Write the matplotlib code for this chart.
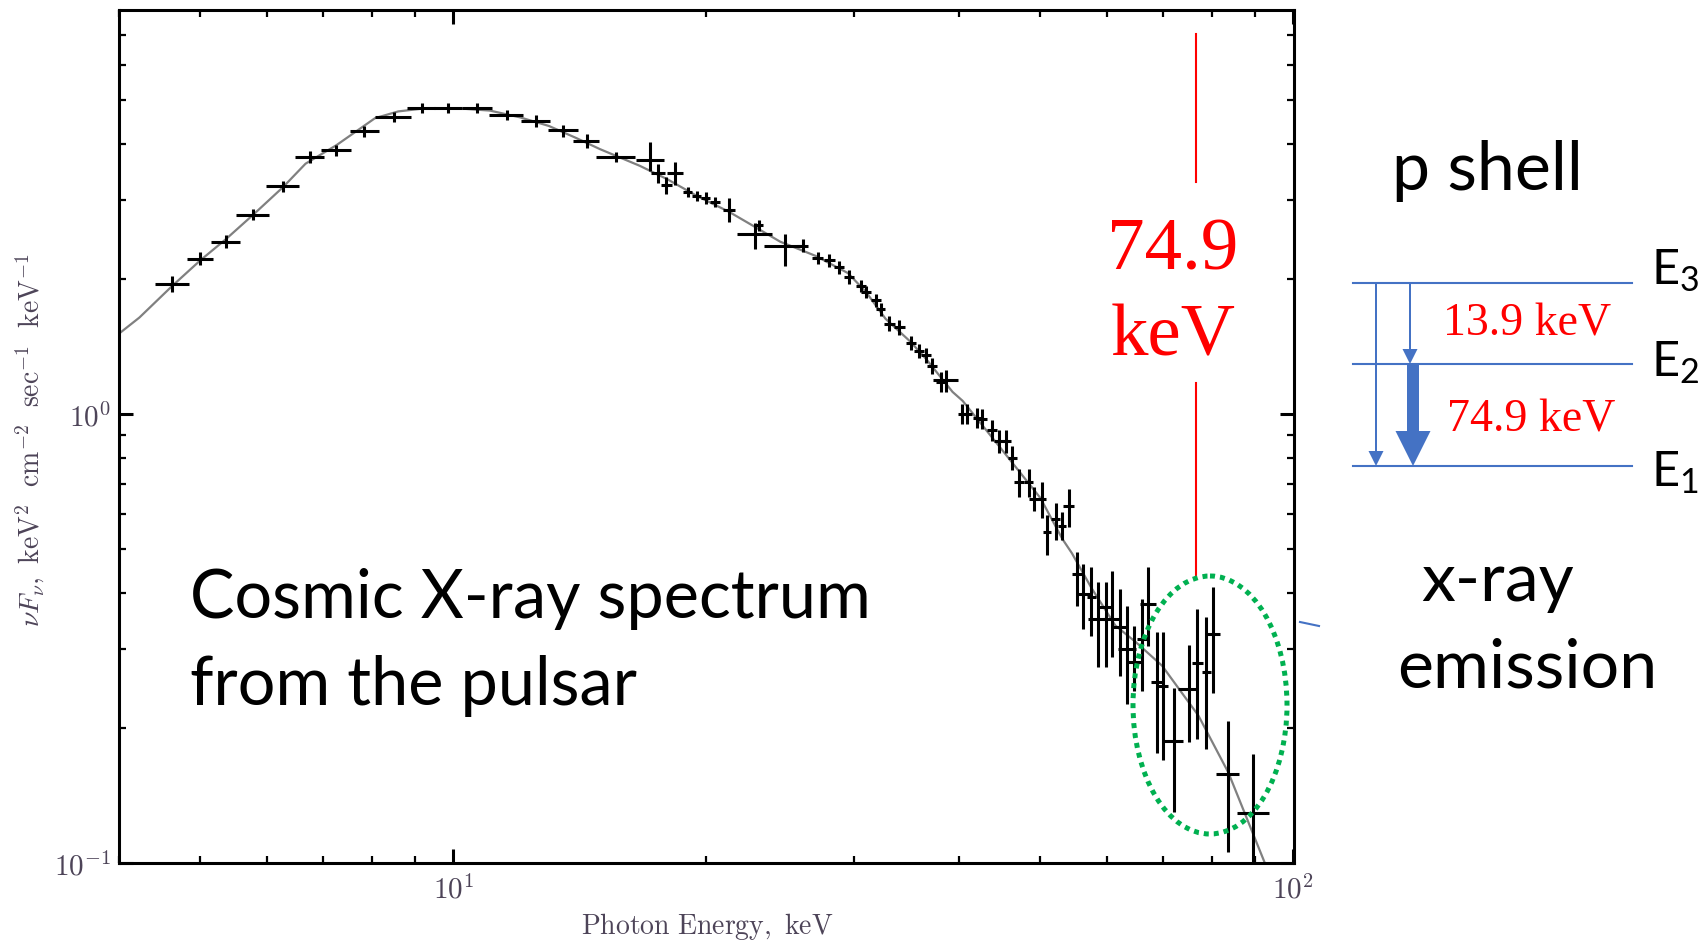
import numpy as np
import matplotlib.pyplot as plt
from matplotlib.patches import Ellipse, FancyArrow
from matplotlib.ticker import NullFormatter, LogLocator

plt.rcParams['mathtext.fontset'] = 'cm'

# measured points: energy (keV), nuFnu, x half width, y errors (minus / plus)
energy = [4.63, 5.00, 5.36, 5.78, 6.27, 6.75, 7.26, 7.84, 8.49, 9.17,
          9.86, 10.67, 11.58, 12.54, 13.52, 14.41, 15.62, 17.17, 17.52, 18.35,
          17.94, 19.01, 19.49, 19.97, 20.47, 21.29, 22.84, 23.15, 24.80, 26.07,
          27.16, 28.04, 28.82, 29.62, 30.58, 31.00, 31.86, 32.30, 33.04, 33.96,
          35.06, 35.86, 36.53, 37.19, 38.06, 38.58, 40.37, 40.93, 42.06, 42.64,
          43.83, 44.64, 45.47, 46.29, 47.15, 48.45, 49.11, 50.16, 50.93, 52.12,
          53.07, 54.06, 55.29, 56.20, 57.51, 58.51, 59.85, 60.84, 62.25, 63.39,
          64.57, 66.05, 67.14, 68.82, 69.90, 72.03, 75.04, 76.91, 78.76, 80.14,
          83.56, 89.66]
flux = [1.95, 2.22, 2.42, 2.78, 3.22, 3.74, 3.87, 4.27, 4.59, 4.80,
        4.80, 4.80, 4.63, 4.50, 4.28, 4.06, 3.74, 3.67, 3.44, 3.44,
        3.23, 3.12, 3.06, 3.03, 2.97, 2.85, 2.52, 2.63, 2.37, 2.37,
        2.23, 2.20, 2.12, 2.02, 1.93, 1.87, 1.79, 1.71, 1.59, 1.56,
        1.44, 1.38, 1.35, 1.28, 1.18, 1.19, 1.00, 1.00, 0.98, 0.975,
        0.92, 0.87, 0.87, 0.80, 0.705, 0.705, 0.647, 0.647, 0.545, 0.584,
        0.564, 0.625, 0.440, 0.397, 0.391, 0.350, 0.371, 0.350, 0.335, 0.300,
        0.280, 0.315, 0.377, 0.253, 0.248, 0.187, 0.244, 0.279, 0.266, 0.324,
        0.158, 0.129]
e_err = [0.21, 0.18, 0.21, 0.26, 0.28, 0.27, 0.30, 0.31, 0.41, 0.35,
         0.38, 0.44, 0.54, 0.51, 0.55, 0.51, 0.83, 0.66, 0.34, 0.40,
         0.29, 0.25, 0.25, 0.27, 0.28, 0.35, 1.09, 0.25, 1.36, 0.40,
         0.40, 0.40, 0.40, 0.40, 0.40, 0.40, 0.40, 0.40, 0.50, 0.50,
         0.50, 0.50, 0.50, 0.50, 0.50, 1.32, 0.50, 0.50, 0.50, 0.50,
         0.60, 0.60, 0.60, 0.60, 0.60, 0.60, 0.60, 0.60, 0.60, 0.60,
         0.60, 0.80, 0.83, 1.15, 0.71, 1.47, 1.23, 1.53, 1.19, 1.59,
         1.32, 0.85, 1.52, 1.17, 0.96, 1.81, 2.05, 1.22, 0.97, 1.64,
         2.56, 3.97]
f_minus = [0.08, 0.07, 0.08, 0.08, 0.09, 0.12, 0.11, 0.12, 0.12, 0.12,
           0.12, 0.12, 0.12, 0.14, 0.13, 0.14, 0.10, 0.19, 0.17, 0.21,
           0.14, 0.08, 0.08, 0.10, 0.08, 0.17, 0.19, 0.08, 0.23, 0.08,
           0.07, 0.07, 0.07, 0.07, 0.06, 0.06, 0.06, 0.06, 0.06, 0.06,
           0.05, 0.05, 0.05, 0.05, 0.06, 0.07, 0.05, 0.05, 0.05, 0.05,
           0.05, 0.05, 0.05, 0.05, 0.05, 0.05, 0.04, 0.06, 0.06, 0.06,
           0.04, 0.065, 0.066, 0.065, 0.070, 0.077, 0.098, 0.063, 0.074, 0.074,
           0.038, 0.073, 0.072, 0.077, 0.078, 0.057, 0.058, 0.090, 0.087, 0.085,
           0.052, 0.060]
f_plus = [0.08, 0.07, 0.08, 0.08, 0.09, 0.12, 0.11, 0.12, 0.12, 0.12,
          0.12, 0.12, 0.12, 0.14, 0.13, 0.14, 0.10, 0.36, 0.17, 0.21,
          0.14, 0.08, 0.08, 0.10, 0.08, 0.17, 0.15, 0.08, 0.15, 0.08,
          0.07, 0.07, 0.07, 0.07, 0.06, 0.06, 0.06, 0.06, 0.06, 0.06,
          0.05, 0.05, 0.05, 0.05, 0.06, 0.06, 0.05, 0.05, 0.05, 0.05,
          0.05, 0.05, 0.05, 0.05, 0.05, 0.05, 0.04, 0.06, 0.05, 0.05,
          0.04, 0.056, 0.054, 0.066, 0.065, 0.072, 0.051, 0.098, 0.073, 0.074,
          0.058, 0.072, 0.079, 0.074, 0.079, 0.058, 0.062, 0.089, 0.088, 0.087,
          0.049, 0.046]

# model curve
model_e = [4.0, 4.23, 4.63, 5.0, 5.36, 5.78, 6.27, 6.67, 7.26, 8.07,
           8.6, 9.2, 10.05, 11.06, 12.0, 13.0, 14.0, 14.95, 16.68, 18.0,
           19.5, 21.3, 22.95, 24.5, 27.0, 29.5, 31.0, 32.7, 35.0, 36.5,
           39.3, 40.4, 44.6, 50.0, 53.1, 54.5, 57.5, 61.4, 65.0, 69.8,
           77.1, 83.7, 92.5, 95.0]
model_f = [1.51, 1.64, 1.93, 2.2, 2.45, 2.78, 3.2, 3.61, 3.97, 4.56,
           4.72, 4.79, 4.80, 4.74, 4.58, 4.38, 4.12, 3.89, 3.57, 3.33,
           3.06, 2.82, 2.6, 2.42, 2.25, 2.06, 1.87, 1.63, 1.45, 1.33,
           1.12, 1.07, 0.85, 0.65, 0.527, 0.49, 0.41, 0.338, 0.31, 0.275,
           0.213, 0.159, 0.10, 0.088]

line_e = 76.6
line_parts = [(3.29, 7.02), (0.436, 1.172)]

level_names = ['$\\mathregular{E_3}$', '$\\mathregular{E_2}$', '$\\mathregular{E_1}$']
gaps = ['13.9 keV', '74.9 keV']

W, H = 1706, 945
fig = plt.figure(figsize=(W / 100, H / 100), dpi=100)
ax = fig.add_axes([119 / W, 81 / H, 1175 / W, 853 / H])
ax.set_xscale('log')
ax.set_yscale('log')
ax.set_xlim(4.0, 100.2)
ax.set_ylim(0.1, 7.94)

ax.plot(model_e, model_f, color='#808080', lw=1.6, zorder=2)
ax.errorbar(energy, flux, xerr=e_err, yerr=[f_minus, f_plus], fmt='none',
            ecolor='black', elinewidth=2.2, capsize=0, zorder=3)
for lo, hi in line_parts:
    ax.plot([line_e, line_e], [lo, hi], color='red', lw=1.5, zorder=4)

for s in ax.spines.values():
    s.set_linewidth(2.2)
ax.xaxis.set_minor_locator(LogLocator(subs=np.arange(2, 10)))
ax.yaxis.set_minor_locator(LogLocator(subs=np.arange(2, 10)))
ax.xaxis.set_minor_formatter(NullFormatter())
ax.yaxis.set_minor_formatter(NullFormatter())
ax.set_xticks([10, 100])
ax.set_xticklabels(['$10^{1}$', '$10^{2}$'])
ax.set_yticks([0.1, 1])
ax.set_yticklabels(['$10^{-1}$', '$10^{0}$'])
lab_col = '#4d4458'
ax.tick_params(which='both', direction='in', top=True, right=True,
               labelcolor=lab_col, labelsize=21)
ax.tick_params(which='major', length=10, width=2.2)
ax.tick_params(which='minor', length=5, width=1.6)
ax.tick_params(axis='x', pad=8)
ax.tick_params(axis='y', pad=6)

# overlay in pixel units
ov = fig.add_axes([0, 0, 1, 1], facecolor='none')
ov.set_xlim(0, W)
ov.set_ylim(H, 0)
ov.axis('off')

ov.text(707, 927, r'$\mathrm{Photon\ Energy,\ keV}$', fontsize=20, color=lab_col,
        ha='center', va='center')
ov.text(30, 440, r'$\nu F_\nu,\ \mathrm{keV}^2\ \ \mathrm{cm}^{-2}\ \ \mathrm{sec}^{-1}\ \ \mathrm{keV}^{-1}$',
        fontsize=20, color=lab_col, rotation=90, ha='center', va='center')

sans = ['Lato', 'DejaVu Sans']
ov.text(190, 618, 'Cosmic X-ray spectrum', fontsize=48, family=sans, va='baseline')
ov.text(190, 705, 'from the pulsar', fontsize=48, family=sans, va='baseline')
ov.text(1392, 190, 'p shell', fontsize=49, family=sans, va='baseline')
ov.text(1498, 601, 'x-ray', fontsize=49, family=sans, va='baseline', ha='center')
ov.text(1527, 688, 'emission', fontsize=49, family=sans, va='baseline', ha='center')

serif = ['Liberation Serif', 'DejaVu Serif']
ov.text(1173, 270, '74.9', fontsize=54, family=serif, color='red', ha='center', va='baseline')
ov.text(1173, 355, 'keV', fontsize=54, family=serif, color='red', ha='center', va='baseline')

ov.add_patch(Ellipse((1210, 706), 154, 258, fill=False, ec='#00B050', lw=3.6,
                     ls=(0, (1, 1))))
blue = '#4472C4'
ov.plot([1300, 1319], [623, 627], color=blue, lw=1.5)

level_y = [284, 365, 467]
label_y = [285, 377, 486]
for yy, ly, name in zip(level_y, label_y, level_names):
    ov.plot([1353, 1632], [yy, yy], color=blue, lw=1.5)
    ov.text(1651, ly, name, fontsize=35, family=sans, va='baseline')

ov.add_patch(FancyArrow(1376, level_y[0], 0, level_y[2] - level_y[0], width=2,
                        head_width=15, head_length=15, length_includes_head=True,
                        color=blue, lw=0))
ov.add_patch(FancyArrow(1410, level_y[0], 0, level_y[1] - level_y[0], width=2,
                        head_width=15, head_length=15, length_includes_head=True,
                        color=blue, lw=0))
ov.add_patch(FancyArrow(1413, level_y[1], 0, level_y[2] - level_y[1], width=12,
                        head_width=35, head_length=35, length_includes_head=True,
                        color=blue, lw=0))
ov.text(1527, 336, gaps[0], fontsize=33, family=serif, color='red', ha='center', va='baseline')
ov.text(1531, 432, gaps[1], fontsize=33, family=serif, color='red', ha='center', va='baseline')

fig.savefig('out.png', dpi=100)
